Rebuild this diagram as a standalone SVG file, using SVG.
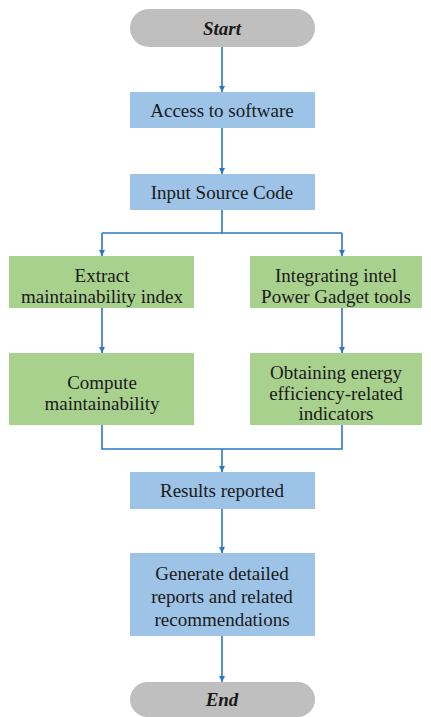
<svg xmlns="http://www.w3.org/2000/svg" width="431" height="717" viewBox="0 0 431 717">
<style>
.blue{fill:#9DC3E6}
.green{fill:#A9D18E}
.grey{fill:#BFBFBF}
text{font-family:'Liberation Serif','DejaVu Serif',serif;font-size:19px;fill:#1a1a1a;text-anchor:middle}
.ti{font-weight:bold;font-style:italic}
.c{fill:none;stroke:#2A78C2;stroke-width:1.6}
</style>
<defs>
<marker id="a" viewBox="0 0 10 10" refX="10" refY="5" markerWidth="6" markerHeight="6" orient="auto" markerUnits="userSpaceOnUse">
<path d="M0,0 L10,5 L0,10 z" fill="#2A78C2"/>
</marker>
</defs>
<rect width="431" height="717" fill="#fff"/>
<g id="connectors">
<path class="c" d="M222,47 V92" marker-end="url(#a)"/>
<path class="c" d="M222,128 V174" marker-end="url(#a)"/>
<path class="c" d="M222,210 V233 M102,233 H342"/>
<path class="c" d="M102,233 V256" marker-end="url(#a)"/>
<path class="c" d="M342,233 V256" marker-end="url(#a)"/>
<path class="c" d="M102,308 V353" marker-end="url(#a)"/>
<path class="c" d="M342,308 V353" marker-end="url(#a)"/>
<path class="c" d="M102,425 V449 H342 V425"/>
<path class="c" d="M222,449 V472" marker-end="url(#a)"/>
<path class="c" d="M222,509 V553" marker-end="url(#a)"/>
<path class="c" d="M222,636 V682" marker-end="url(#a)"/>
</g>
<g id="start">
<rect class="grey" x="130" y="9" width="185" height="38" rx="19"/>
<text class="ti" x="222" y="34.5">Start</text>
</g>
<g id="access">
<rect class="blue" x="130" y="92" width="185" height="36"/>
<text x="222" y="116.5">Access to software</text>
</g>
<g id="input">
<rect class="blue" x="130" y="174" width="185" height="36"/>
<text x="222" y="198.5">Input Source Code</text>
</g>
<g id="extract">
<rect class="green" x="9" y="256" width="185" height="52"/>
<text x="102" y="281.5">Extract</text>
<text x="102" y="302.5">maintainability index</text>
</g>
<g id="integrating">
<rect class="green" x="250" y="256" width="172" height="52"/>
<text x="336" y="281.5">Integrating intel</text>
<text x="336" y="302.5">Power Gadget tools</text>
</g>
<g id="compute">
<rect class="green" x="9" y="353" width="185" height="72"/>
<text x="102" y="388.5">Compute</text>
<text x="102" y="409.5">maintainability</text>
</g>
<g id="obtaining">
<rect class="green" x="250" y="353" width="172" height="72"/>
<text x="336" y="378.5">Obtaining energy</text>
<text x="336" y="399.5">efficiency-related</text>
<text x="336" y="420">indicators</text>
</g>
<g id="results">
<rect class="blue" x="130" y="472" width="185" height="37"/>
<text x="222" y="496.5">Results reported</text>
</g>
<g id="generate">
<rect class="blue" x="130" y="553" width="185" height="83"/>
<text x="222" y="579.5">Generate detailed</text>
<text x="222" y="602.5">reports and related</text>
<text x="222" y="625.5">recommendations</text>
</g>
<g id="end">
<rect class="grey" x="130" y="682" width="185" height="35" rx="17.5"/>
<text class="ti" x="222" y="706">End</text>
</g>
</svg>
